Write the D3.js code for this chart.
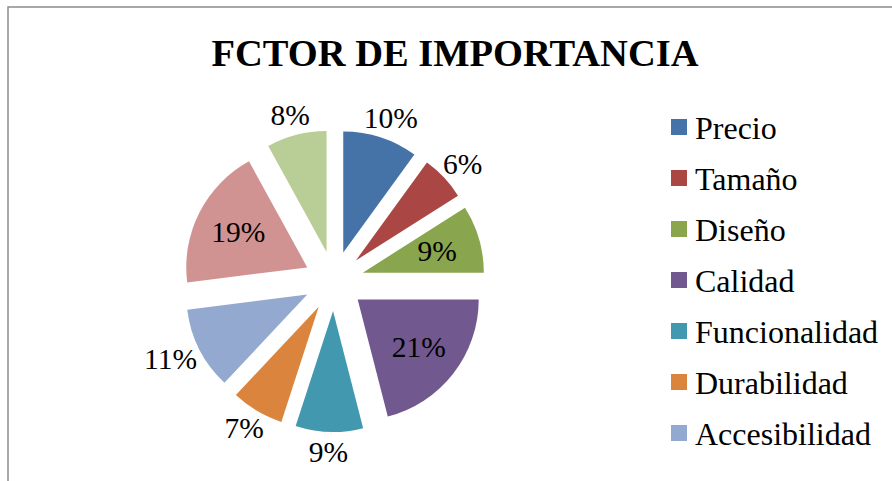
<!DOCTYPE html>
<html>
<head>
<meta charset="utf-8">
<script src="https://cdn.jsdelivr.net/npm/d3@7"></script>
<style>
  body { margin: 0; background: #fff; }
  svg { display: block; font-family: 'Liberation Serif', 'Times New Roman', serif; }
</style>
</head>
<body>
<div id="graf"></div>
<script>
// datos del gráfico
const categorias = ['Precio', 'Tamaño', 'Diseño', 'Calidad', 'Funcionalidad', 'Durabilidad', 'Accesibilidad', 'Otro A', 'Otro B']
const valores = [10, 6, 9, 21, 9, 7, 11, 19, 8]
const colores = ['#4572a7', '#aa4643', '#89a54e', '#71588f', '#4198af', '#db843d', '#93a9cf', '#d19392', '#b9cd96']
const etiquetaDentro = [false, false, true, true, false, false, false, true, false]
const titulo = 'FCTOR DE IMPORTANCIA'
// la leyenda solo muestra las entradas que caben
const entradasLeyenda = 7

const anchoTotal = 892
const altoTotal = 481

const svg = d3.select('#graf')
  .append('svg')
  .attr('width', anchoTotal)
  .attr('height', altoTotal)

// marco (cortado a la derecha y abajo)
svg.append('rect')
  .attr('x', 8)
  .attr('y', 7)
  .attr('width', anchoTotal + 20)
  .attr('height', altoTotal + 20)
  .attr('fill', 'none')
  .attr('stroke', '#8c8c8c')
  .attr('stroke-width', 1.5)

svg.append('text')
  .attr('x', 455)
  .attr('y', 66)
  .attr('text-anchor', 'middle')
  .attr('font-size', 38.5)
  .attr('font-weight', 'bold')
  .text(titulo)

// !PASTEL
const cx = 334
const cy = 281
const radio = 121
const separa = 30

const total = d3.sum(valores)
const pie = d3.pie().sort(null).value((d) => d)
const arco = d3.arc().innerRadius(0).outerRadius(radio)
const porcentaje = (v) => d3.format('.0%')(v / total)

const g = svg.append('g').attr('transform', `translate(${cx}, ${cy})`)

const rebanadas = pie(valores)
const medio = (d) => (d.startAngle + d.endAngle) / 2

g.selectAll('path')
  .data(rebanadas)
  .join('path')
  .attr('d', arco)
  .attr('fill', (d, i) => colores[i])
  .attr('transform', (d) => {
    const a = medio(d)
    return `translate(${separa * Math.sin(a)}, ${-separa * Math.cos(a)})`
  })

g.selectAll('text.etq')
  .data(rebanadas)
  .join('text')
  .attr('class', 'etq')
  .attr('font-size', 29.5)
  .attr('text-anchor', 'middle')
  .attr('dominant-baseline', 'central')
  .text((d) => porcentaje(d.value))
  .each(function (d, i) {
    const a = medio(d)
    const s = Math.sin(a)
    const c = Math.cos(a)
    let px, py
    if (etiquetaDentro[i]) {
      const dist = separa + radio * 0.64
      px = dist * s
      py = -dist * c
    } else {
      const w = this.getComputedTextLength()
      const dist = separa + radio + 6
      px = dist * s + (s * w) / 2
      py = -dist * c - c * 14
    }
    d3.select(this).attr('x', px).attr('y', py)
  })

// !LEYENDA
const leyenda = svg.append('g').attr('transform', 'translate(671, 127)')

const item = leyenda.selectAll('g')
  .data(categorias.slice(0, entradasLeyenda))
  .join('g')
  .attr('transform', (d, i) => `translate(0, ${i * 51})`)

item.append('rect')
  .attr('x', 0)
  .attr('y', -8)
  .attr('width', 16)
  .attr('height', 16)
  .attr('fill', (d, i) => colores[i])

item.append('text')
  .attr('x', 24)
  .attr('y', 1)
  .attr('dominant-baseline', 'central')
  .attr('font-size', 32)
  .text((d) => d)
</script>
</body>
</html>
